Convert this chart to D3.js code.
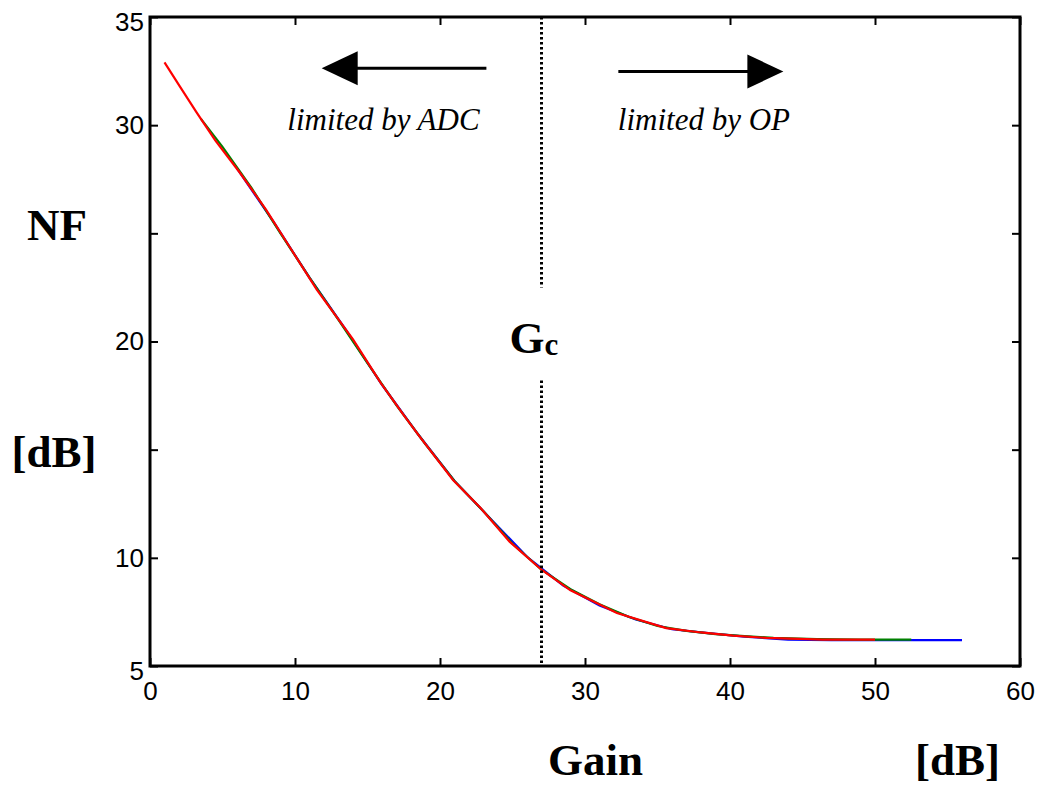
<!DOCTYPE html>
<html>
<head>
<meta charset="utf-8">
<script src="https://cdn.jsdelivr.net/npm/d3@7"></script>
<style>
  body { margin: 0; background: #fff; }
  .tick text { font-family: "Liberation Sans", Arial, sans-serif; font-size: 26px; fill: #000; }
  .lbl { font-family: "Liberation Serif", "Times New Roman", serif; font-weight: bold; font-size: 45px; }
  .note { font-family: "Liberation Serif", "Times New Roman", serif; font-style: italic; font-size: 31px; }
</style>
</head>
<body>
<svg id="chart" width="1039" height="787"></svg>
<script>
// NF vs gain, three overlapping simulations (red on top)
var gainRed = [1, 2, 3.2, 4.5, 6.2, 8, 9.7, 11.5, 14, 15.9, 17.5, 18.6, 20.9, 22.8, 24.8, 27, 29, 32.2, 35.6, 38, 40.2, 42.5, 46.4, 50];
var nfRed   = [32.9, 31.85, 30.6, 29.3, 27.8, 26.1, 24.3, 22.4, 20.1, 18.1, 16.6, 15.6, 13.6, 12.3, 10.75, 9.45, 8.5, 7.45, 6.75, 6.55, 6.4, 6.3, 6.22, 6.22];

var gainGreen = [3.5, 5, 7, 9, 11, 13, 15, 17, 19, 21, 23, 25, 27, 29, 31, 33, 35, 37, 39, 41, 43, 46, 49, 52.5];
var nfGreen   = [30.3, 29.0, 27.1, 25.0, 22.95, 21.0, 19.0, 17.05, 15.25, 13.55, 12.15, 10.65, 9.45, 8.55, 7.85, 7.28, 6.85, 6.62, 6.47, 6.38, 6.3, 6.24, 6.22, 6.22];

var gainBlue = [6, 8.5, 11, 13.5, 16, 18.5, 21, 23.5, 26, 28.5, 31, 33.5, 36, 38.5, 41, 44, 47, 50, 53, 56];
var nfBlue   = [28.0, 25.55, 22.95, 20.55, 18.0, 15.7, 13.55, 11.8, 10.05, 8.72, 7.8, 7.15, 6.7, 6.52, 6.36, 6.22, 6.2, 6.2, 6.2, 6.2];

var xTicks = [0, 10, 20, 30, 40, 50, 60];
var yTicks = [5, 10, 15, 20, 25, 30, 35];
var yLabels = [5, 10, 20, 30, 35];
var gainCross = 27;

var svg = d3.select("#chart");
var x = d3.scaleLinear().domain([0, 60]).range([150, 1020]);
var y = d3.scaleLinear().domain([5, 35]).range([666, 17]);

// axes, ticks pointing inward on all four sides
svg.append("g").attr("transform", "translate(0,666)")
  .call(d3.axisBottom(x).tickValues(xTicks).tickSize(-8).tickPadding(16))
  .call(g => g.select(".domain").remove());
svg.append("g").attr("transform", "translate(0,17)")
  .call(d3.axisTop(x).tickValues(xTicks).tickSize(-8).tickFormat(""))
  .call(g => g.select(".domain").remove());
var yAx = svg.append("g").attr("transform", "translate(150,0)")
  .call(d3.axisLeft(y).tickValues(yTicks).tickSize(-8).tickPadding(6)
    .tickFormat(d => yLabels.indexOf(d) >= 0 ? d : ""))
  .call(g => g.select(".domain").remove());
yAx.selectAll(".tick text").attr("dy", d => d == 5 || d == 35 ? "0.5em" : "0.32em");
svg.append("g").attr("transform", "translate(1020,0)")
  .call(d3.axisRight(y).tickValues(yTicks).tickSize(-8).tickFormat(""))
  .call(g => g.select(".domain").remove());
svg.selectAll(".tick line").attr("stroke", "#000").attr("stroke-width", 2);

svg.append("rect")
  .attr("x", x(0)).attr("y", y(35))
  .attr("width", x(60) - x(0)).attr("height", y(5) - y(35))
  .attr("fill", "none").attr("stroke", "#000").attr("stroke-width", 3);

// curves
var line = d3.line().x(d => x(d[0])).y(d => y(d[1]));
var series = [
  { g: gainBlue, v: nfBlue, c: "#0000ff" },
  { g: gainGreen, v: nfGreen, c: "#008000" },
  { g: gainRed, v: nfRed, c: "#ff0000" }
];
series.forEach(function(s) {
  svg.append("path")
    .datum(s.g.map((g, i) => [g, s.v[i]]))
    .attr("d", line)
    .attr("fill", "none")
    .attr("stroke", s.c)
    .attr("stroke-width", 2.2);
});

// Gc marker
[[35, 22.5], [18.2, 5]].forEach(function(seg) {
  svg.append("line")
    .attr("x1", x(gainCross)).attr("x2", x(gainCross))
    .attr("y1", y(seg[0])).attr("y2", y(seg[1]))
    .attr("stroke", "#000").attr("stroke-width", 3)
    .attr("stroke-dasharray", "2.5,2.5");
});
var gc = svg.append("text").attr("class", "lbl")
  .attr("x", x(gainCross) - 32).attr("y", 353);
gc.append("tspan").text("G");
gc.append("tspan").attr("font-size", 31).attr("dy", 2).text("c");

// arrows
function arrow(x1, x2, yv) {
  var dir = x2 < x1 ? -1 : 1;
  var tip = x(x2), py = y(yv);
  svg.append("line")
    .attr("x1", x(x1)).attr("x2", tip - dir * 30).attr("y1", py).attr("y2", py)
    .attr("stroke", "#000").attr("stroke-width", 3);
  svg.append("path")
    .attr("d", `M${tip},${py} L${tip - dir * 36},${py - 17} L${tip - dir * 36},${py + 17} Z`)
    .attr("fill", "#000");
}
arrow(23.2, 11.84, 32.63);
arrow(32.3, 43.68, 32.48);

svg.append("text").attr("class", "note").attr("text-anchor", "middle")
  .attr("x", x(16.1)).attr("y", 130).text("limited by ADC");
svg.append("text").attr("class", "note").attr("text-anchor", "middle")
  .attr("x", x(38.2)).attr("y", 130).text("limited by OP");

// axis titles
svg.append("text").attr("class", "lbl").attr("text-anchor", "middle")
  .attr("x", 57).attr("y", 240).text("NF");
svg.append("text").attr("class", "lbl").attr("text-anchor", "middle")
  .attr("x", 54).attr("y", 467).text("[dB]");
svg.append("text").attr("class", "lbl")
  .attr("x", 548).attr("y", 775).text("Gain");
svg.append("text").attr("class", "lbl")
  .attr("x", 915).attr("y", 775).text("[dB]");
</script>
</body>
</html>
